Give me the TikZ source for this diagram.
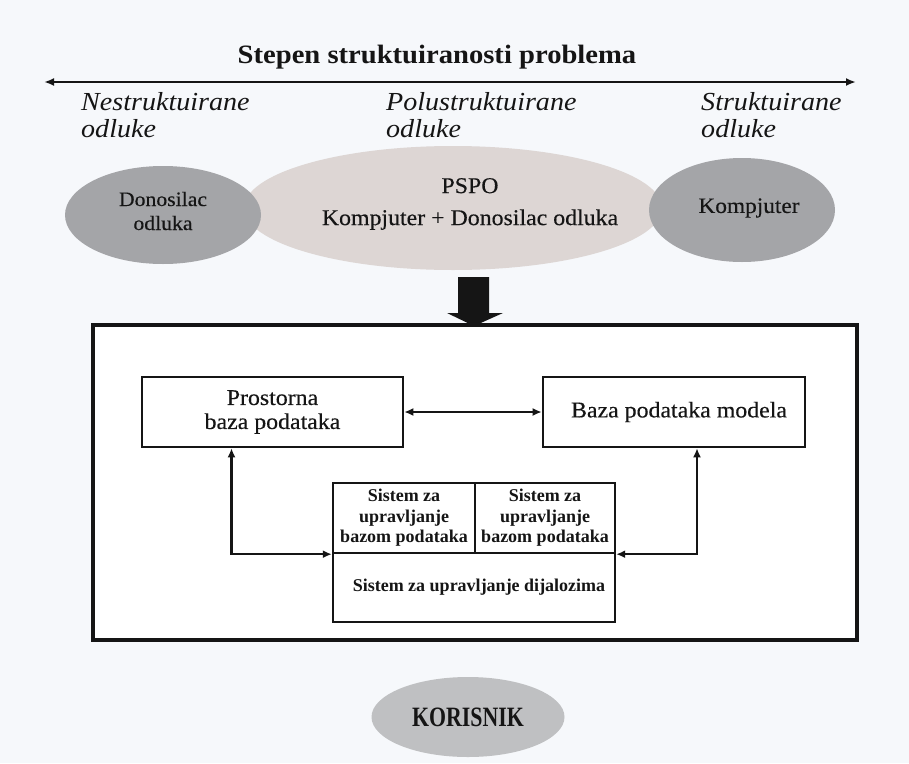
\documentclass[tikz,border=0pt]{standalone}
\usepackage{fontspec}
\setmainfont{Liberation Serif}
\newfontfamily\labelserif[FakeStretch=1.08]{Liberation Serif}
\newfontfamily\heavyserif[FakeStretch=1.06,FakeBold=0.3]{Liberation Serif}
\newfontfamily\narrowserif[FakeStretch=0.78]{Liberation Serif}
\usetikzlibrary{shapes.geometric,arrows.meta}
\definecolor{pagebg}{HTML}{F6F8FB}
\definecolor{sidegray}{HTML}{A4A5A8}
\definecolor{midrose}{HTML}{DDD6D4}
\definecolor{usergray}{HTML}{BFC0C2}
\definecolor{ink}{HTML}{151515}
\tikzset{
  axislabel/.style={anchor=west, align=left, inner sep=0pt, text=ink,
    font=\labelserif\itshape\fontsize{26}{27}\selectfont},
  blob/.style={ellipse, inner sep=0pt, text=ink},
  ovaltext/.style={align=center, text=ink, inner sep=0pt,
    font=\heavyserif\fontsize{20.5}{24}\selectfont},
  dbbox/.style={draw=ink, line width=2.6pt, fill=white, inner sep=0pt, text=ink,
    font=\heavyserif\fontsize{22.5}{24}\selectfont, align=center},
  cellbox/.style={draw=ink, line width=2.4pt, fill=white, inner sep=0pt, text=ink,
    align=center, font=\bfseries\fontsize{18}{20.5}\selectfont},
  link/.style={draw=ink, line width=2.4pt, {Latex[length=9pt,width=8pt]}-{Latex[length=9pt,width=8pt]}},
}
\begin{document}
\begin{tikzpicture}[x=1pt,y=-1pt]
  % page
  \fill[pagebg] (0,0) rectangle (909,763);
  \useasboundingbox (0,0) rectangle (909,763);

  % scale of structuredness
  \node[text=ink, inner sep=0pt, font=\labelserif\bfseries\fontsize{26.5}{30}\selectfont] (title) at (437,57) {Stepen struktuiranosti problema};
  \coordinate (axl) at (44,82);
  \coordinate (axr) at (856,82);
  \draw[draw=ink, line width=2.4pt, {Latex[length=10pt,width=8pt]}-{Latex[length=10pt,width=8pt]}] (axl) -- (axr);

  \node[axislabel] (nes) at (81,115) {Nestruktuirane\\odluke};
  \node[axislabel] (pol) at (386,115) {Polustruktuirane\\odluke};
  \node[axislabel] (str) at (701,115) {Struktuirane\\odluke};

  % decision makers
  \node[blob, fill=midrose, minimum width=418pt, minimum height=124pt] (pspo) at (453,208) {};
  \node[blob, fill=sidegray, minimum width=196pt, minimum height=98pt] (dm) at (163,215) {};
  \node[blob, fill=sidegray, minimum width=186pt, minimum height=104pt] (pc) at (742,210) {};
  \node[ovaltext] (dmtext) at (163,211) {Donosilac\\odluka};
  \node[ovaltext, font=\heavyserif\fontsize{22}{24}\selectfont] (pctext) at (749,208) {Kompjuter};
  \node[ovaltext, font=\heavyserif\fontsize{22.5}{32}\selectfont] (pspotext) at (470,204) {PSPO\\Kompjuter + Donosilac odluka};

  % block arrow into the system
  \fill[ink] (458,277) -- (489,277) -- (489,313) -- (503,313) -- (474,326)
             -- (447,313) -- (458,313) -- cycle;

  % system frame
  \node[draw=ink, line width=3.4pt, fill=white, minimum width=764pt, minimum height=315pt, inner sep=0pt] (frame) at (475,482.5) {};

  % databases
  \node[dbbox, minimum width=261pt, minimum height=70pt] (geo) at (272.5,412) {Prostorna\\baza podataka};
  \node[dbbox, minimum width=262pt, minimum height=70pt] (mod) at (674,412) {\hspace*{10pt}Baza podataka modela};
  \draw[link] (geo.east) -- (mod.west);

  % management systems
  \node[cellbox, minimum width=282pt, minimum height=69pt] (dlg) at (474,587.5) {\hspace*{10pt}Sistem za upravljanje dijalozima};
  \node[cellbox, minimum width=142pt, minimum height=70pt] (dbl) at (404,518) {Sistem za\\upravljanje\\bazom podataka};
  \node[cellbox, minimum width=140pt, minimum height=70pt] (dbr) at (545,518) {Sistem za\\upravljanje\\bazom podataka};

  \draw[link] ([xshift=-41pt]geo.south) |- (dbl.south west);
  \draw[link] ([xshift=23pt]mod.south) |- (dbr.south east);

  % user
  \node[blob, fill=usergray, minimum width=193pt, minimum height=80pt,
        font=\narrowserif\bfseries\fontsize{28}{32}\selectfont] (user) at (468,717) {KORISNIK};
\end{tikzpicture}
\end{document}
